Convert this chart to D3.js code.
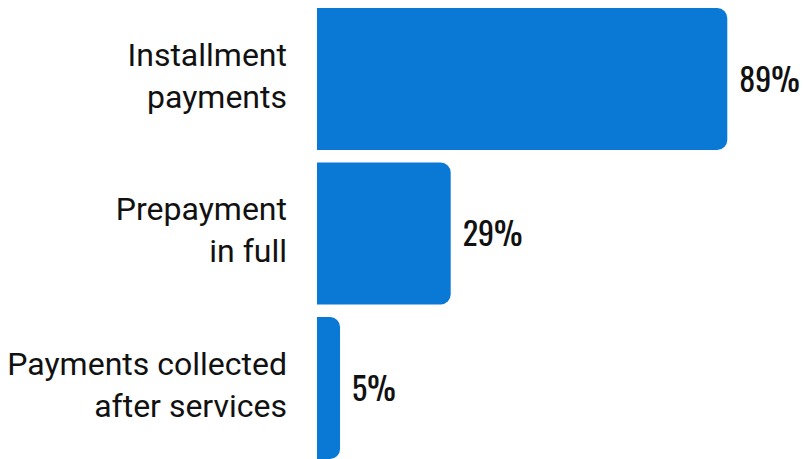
<!DOCTYPE html>
<html>
<head>
<meta charset="utf-8">
<script src="https://cdn.jsdelivr.net/npm/d3@7"></script>
<style>
  html, body { margin: 0; padding: 0; background: #fff; }
  svg { display: block; }
</style>
</head>
<body>
<svg id="chart" width="804" height="459"></svg>
<script>
// Payment methods and share of respondents using each
const categories = ["Installment payments", "Prepayment in full", "Payments collected after services"];
const labelLines = [["Installment", "payments"], ["Prepayment", "in full"], ["Payments collected", "after services"]];
const values = [89, 29, 5];

const barColor = "#0a79d6";
const radius = 10;

const svg = d3.select("#chart");

const y = d3.scaleBand()
  .domain(categories)
  .range([1.75, 465.25])
  .paddingInner(0.081)
  .paddingOuter(0.0405);

const x = d3.scaleLinear()
  .domain([0, 100])
  .range([317, 778]);

// Bar with square left edge and rounded right corners
function barPath(x0, x1, y0, h) {
  const r = Math.min(radius, (x1 - x0) / 2, h / 2);
  return `M${x0},${y0}` +
    `H${x1 - r}` +
    `A${r},${r} 0 0 1 ${x1},${y0 + r}` +
    `V${y0 + h - r}` +
    `A${r},${r} 0 0 1 ${x1 - r},${y0 + h}` +
    `H${x0}Z`;
}

const rows = categories.map((c, i) => ({ cat: c, lines: labelLines[i], value: values[i] }));

const g = svg.selectAll("g.row")
  .data(rows)
  .join("g")
  .attr("class", "row");

g.append("path")
  .attr("d", d => barPath(x(0), x(d.value), y(d.cat), y.bandwidth()))
  .attr("fill", barColor);

// Category labels, right aligned, two lines
g.append("text")
  .attr("text-anchor", "end")
  .attr("font-family", "Roboto, 'Noto Sans', sans-serif")
  .attr("font-size", 32)
  .attr("fill", "#111")
  .each(function(d) {
    const cy = y(d.cat) + y.bandwidth() / 2;
    const t = d3.select(this);
    d.lines.forEach((ln, j) => {
      t.append("tspan")
        .attr("x", 287)
        .attr("y", cy - 13.5 + j * 42)
        .text(ln);
    });
  });

// Value labels
g.append("text")
  .attr("x", d => x(d.value) + 12)
  .attr("y", d => y(d.cat) + y.bandwidth() / 2 + 12.5)
  .attr("font-family", "Oswald, 'Roboto Condensed', sans-serif")
  .attr("font-weight", 450)
  .attr("font-size", 32)
  .attr("fill", "#111")
  .text(d => d.value + "%");
</script>
</body>
</html>
